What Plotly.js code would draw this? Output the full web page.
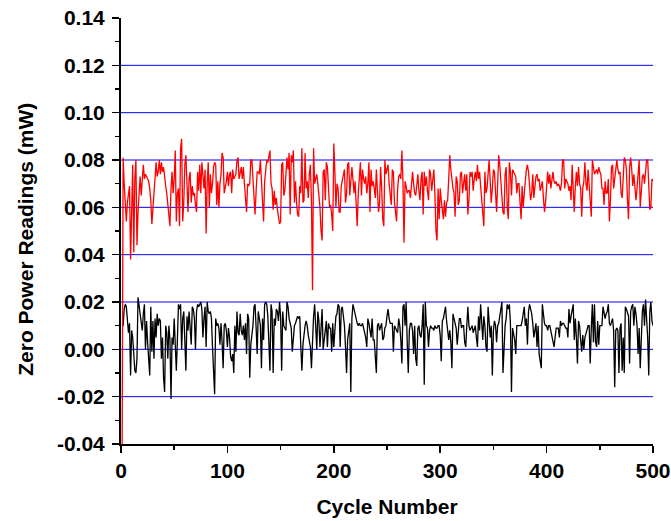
<!DOCTYPE html>
<html>
<head>
<meta charset="utf-8">
<script src="https://cdn.plot.ly/plotly-3.0.1.min.js"></script>
<style>
  html, body { margin: 0; padding: 0; background: #fff; }
  #chart { width: 671px; height: 521px; }
</style>
</head>
<body>
<div id="chart"></div>
<script>
// Zero power readings logged over 500 measurement cycles (mW).
const cycleStart = 1;

// Upper trace (red), cycles 1..500
const redReadings = [
  -0.050,0.081,0.070,0.059,0.054,0.062,0.066,0.069,0.038,0.060,0.078,0.041,0.072,0.080,0.044,0.058,0.067,0.073,0.065,0.071,
  0.078,0.072,0.074,0.073,0.072,0.071,0.068,0.063,0.053,0.060,0.065,0.070,0.079,0.073,0.075,0.080,0.074,0.079,0.075,0.077,
  0.072,0.069,0.066,0.060,0.057,0.052,0.068,0.075,0.066,0.072,0.084,0.054,0.066,0.068,0.052,0.085,0.089,0.054,0.062,0.078,
  0.082,0.066,0.058,0.072,0.075,0.062,0.069,0.065,0.066,0.061,0.058,0.075,0.067,0.078,0.066,0.079,0.072,0.068,0.076,0.049,
  0.070,0.079,0.060,0.074,0.066,0.070,0.077,0.079,0.078,0.061,0.071,0.060,0.070,0.074,0.083,0.081,0.066,0.068,0.071,0.075,
  0.069,0.074,0.075,0.066,0.076,0.072,0.073,0.074,0.080,0.081,0.072,0.074,0.077,0.072,0.077,0.070,0.065,0.058,0.070,0.069,
  0.070,0.080,0.080,0.072,0.063,0.057,0.067,0.075,0.075,0.074,0.080,0.072,0.060,0.054,0.071,0.076,0.080,0.079,0.081,0.084,
  0.070,0.068,0.059,0.067,0.061,0.064,0.059,0.055,0.053,0.054,0.078,0.079,0.065,0.067,0.074,0.081,0.076,0.083,0.057,0.082,
  0.079,0.084,0.062,0.071,0.062,0.057,0.056,0.069,0.066,0.085,0.062,0.063,0.083,0.068,0.071,0.064,0.074,0.078,0.062,0.025,
  0.085,0.070,0.072,0.074,0.070,0.066,0.060,0.050,0.046,0.075,0.076,0.063,0.079,0.077,0.066,0.060,0.061,0.057,0.050,0.087,
  0.075,0.060,0.070,0.068,0.058,0.058,0.069,0.071,0.073,0.076,0.062,0.066,0.078,0.079,0.065,0.070,0.077,0.072,0.066,0.071,
  0.064,0.052,0.066,0.074,0.079,0.065,0.076,0.072,0.070,0.073,0.066,0.070,0.079,0.058,0.076,0.069,0.071,0.068,0.064,0.076,
  0.066,0.058,0.062,0.077,0.068,0.055,0.052,0.080,0.074,0.077,0.078,0.070,0.064,0.061,0.076,0.075,0.062,0.059,0.054,0.068,
  0.073,0.074,0.072,0.084,0.071,0.045,0.071,0.069,0.066,0.067,0.067,0.064,0.070,0.075,0.070,0.066,0.065,0.071,0.074,0.067,
  0.063,0.072,0.075,0.057,0.075,0.069,0.073,0.067,0.063,0.076,0.074,0.067,0.071,0.076,0.066,0.050,0.046,0.068,0.055,0.068,
  0.063,0.060,0.055,0.063,0.056,0.062,0.063,0.072,0.082,0.076,0.071,0.068,0.066,0.056,0.073,0.071,0.061,0.063,0.074,0.075,
  0.066,0.071,0.074,0.067,0.074,0.057,0.063,0.075,0.073,0.075,0.067,0.072,0.075,0.071,0.078,0.072,0.075,0.069,0.063,0.057,
  0.052,0.075,0.066,0.068,0.075,0.080,0.071,0.062,0.068,0.076,0.075,0.068,0.058,0.070,0.082,0.078,0.071,0.065,0.058,0.057,
  0.074,0.077,0.060,0.055,0.079,0.075,0.065,0.076,0.075,0.074,0.073,0.066,0.070,0.070,0.062,0.055,0.069,0.060,0.066,0.073,
  0.076,0.078,0.075,0.069,0.063,0.066,0.074,0.064,0.069,0.073,0.074,0.071,0.072,0.067,0.069,0.071,0.064,0.058,0.062,0.072,
  0.075,0.070,0.074,0.068,0.073,0.075,0.071,0.070,0.071,0.069,0.070,0.069,0.067,0.070,0.080,0.080,0.068,0.072,0.071,0.070,
  0.067,0.069,0.063,0.078,0.068,0.058,0.069,0.075,0.069,0.077,0.070,0.068,0.056,0.068,0.071,0.079,0.070,0.067,0.076,0.069,
  0.063,0.056,0.080,0.076,0.074,0.075,0.076,0.074,0.077,0.075,0.074,0.068,0.068,0.061,0.071,0.066,0.066,0.072,0.054,0.063,
  0.077,0.078,0.068,0.072,0.076,0.080,0.076,0.074,0.075,0.066,0.064,0.071,0.081,0.080,0.076,0.063,0.055,0.077,0.081,0.076,
  0.069,0.074,0.069,0.063,0.068,0.077,0.080,0.060,0.067,0.073,0.074,0.070,0.075,0.080,0.080,0.069,0.059,0.060,0.072,0.071
];

// Lower trace (black), cycles 1..500
const blackReadings = [
  0.010,0.010,0.017,0.019,0.018,0.012,0.007,0.011,-0.011,0.008,0.005,-0.002,-0.009,-0.010,-0.004,0.022,0.018,0.016,0.011,0.008,
  0.015,0.019,0.000,0.012,0.003,-0.004,-0.011,0.018,-0.001,0.012,-0.004,0.013,0.005,0.015,0.010,0.013,0.012,-0.004,0.005,-0.012,
  -0.018,0.010,0.007,-0.004,0.010,0.004,-0.021,0.005,0.002,0.013,-0.002,-0.009,0.004,0.019,0.017,0.019,0.000,0.013,0.016,0.003,
  -0.009,0.014,0.008,0.016,0.010,0.002,0.018,0.017,0.013,0.000,0.016,0.019,0.018,0.019,0.020,0.017,0.005,0.013,0.018,0.001,
  0.020,0.016,0.015,0.016,0.013,0.001,-0.009,-0.019,0.013,0.010,0.011,0.009,0.002,0.011,0.003,-0.008,0.010,0.011,0.008,0.001,
  0.009,0.005,-0.003,-0.005,-0.002,-0.010,0.010,-0.001,0.016,0.007,0.006,0.015,0.008,0.006,0.010,0.004,0.011,-0.002,0.015,0.013,
  -0.012,0.002,0.006,0.010,0.018,0.019,0.009,-0.002,0.016,0.012,0.010,-0.008,0.013,0.004,0.019,0.020,0.019,0.014,0.003,-0.009,
  0.019,0.016,-0.010,0.013,0.010,0.017,0.016,0.012,0.020,0.014,-0.009,0.016,0.010,0.009,0.008,0.020,0.018,0.013,0.010,0.009,
  -0.001,0.004,0.010,0.011,0.013,0.014,0.013,0.014,0.001,-0.009,0.002,0.008,0.010,0.012,0.010,0.006,0.004,0.001,-0.008,0.006,
  0.014,0.019,0.010,0.000,0.016,0.012,0.001,0.010,0.017,0.000,0.006,0.008,0.012,0.001,0.011,0.009,0.009,-0.001,0.011,0.001,
  0.008,0.014,0.015,0.019,0.018,0.001,0.017,0.018,0.014,0.010,0.001,-0.010,0.004,0.007,0.011,-0.018,0.013,0.019,0.017,0.015,
  0.012,0.011,0.010,0.011,0.010,0.010,0.011,0.009,0.008,0.005,0.001,0.013,0.011,0.008,0.005,0.013,0.004,0.004,-0.003,-0.010,
  0.010,0.011,0.008,0.010,0.011,0.004,0.005,0.009,0.010,0.014,0.017,0.013,0.011,0.011,0.011,-0.001,0.010,0.009,0.008,0.007,
  0.013,0.010,0.004,-0.006,0.018,0.019,0.010,0.020,0.003,-0.010,0.008,0.011,0.011,0.008,-0.002,0.010,-0.004,-0.007,0.009,0.010,
  0.006,0.005,0.010,0.019,-0.015,0.020,0.010,0.009,0.001,0.008,0.010,0.009,0.009,0.008,0.010,0.009,0.009,0.010,0.010,0.006,
  -0.005,0.012,0.013,0.015,0.018,0.012,0.009,0.004,0.008,0.003,-0.008,0.015,0.013,0.011,0.009,0.002,0.010,0.013,0.013,0.009,
  0.010,0.010,0.003,0.001,0.010,0.018,0.010,0.008,0.009,0.010,0.007,0.009,0.010,0.005,0.001,0.014,0.008,0.019,0.008,0.004,
  0.014,0.010,0.001,-0.001,0.018,0.011,0.005,0.010,-0.011,0.008,0.012,0.010,0.003,0.010,0.011,0.014,0.017,0.020,-0.010,0.004,
  0.010,0.013,0.019,0.017,0.019,0.011,-0.018,0.009,0.007,0.004,-0.002,0.010,0.010,0.010,0.010,0.010,0.012,0.015,0.018,0.010,
  0.013,0.002,0.016,0.019,0.017,0.015,0.011,0.005,0.008,0.011,0.001,0.010,-0.002,-0.006,-0.008,0.019,0.014,0.011,0.010,0.010,
  0.008,0.010,0.010,0.008,0.006,0.003,0.001,0.005,0.009,0.009,0.009,0.005,0.012,0.010,0.011,0.011,0.010,0.009,0.009,0.005,
  0.017,0.011,0.014,0.016,0.019,0.004,0.013,0.005,-0.006,0.012,0.010,0.004,-0.001,0.006,0.000,0.005,0.007,0.008,0.010,0.010,
  -0.006,0.009,0.019,0.003,0.019,0.003,0.001,0.012,0.002,0.010,0.010,0.010,0.018,0.016,0.013,0.015,0.016,0.019,0.011,0.010,
  0.012,0.013,0.008,-0.016,0.008,0.009,0.008,-0.010,0.009,0.011,-0.009,0.005,-0.010,0.018,0.017,0.015,0.014,-0.006,0.016,0.018,
  0.019,0.010,0.018,0.015,0.010,-0.002,0.009,-0.008,0.010,0.016,0.019,0.010,0.021,0.012,0.005,-0.011,0.016,0.020,0.012,0.010
];

// Axis ticks and horizontal reference lines
const yTickVals = [-0.04, -0.02, 0.00, 0.02, 0.04, 0.06, 0.08, 0.10, 0.12, 0.14];
const yTickText = ['-0.04', '-0.02', '0.00', '0.02', '0.04', '0.06', '0.08', '0.10', '0.12', '0.14'];
const xTickVals = [0, 100, 200, 300, 400, 500];
const gridLevels = [-0.02, 0.00, 0.02, 0.04, 0.06, 0.08, 0.10, 0.12];

const cycles = redReadings.map((_, i) => cycleStart + i);

const fontFamily = 'Arial, "Liberation Sans", Helvetica, sans-serif';

const traces = [
  {
    x: cycles, y: blackReadings, type: 'scatter', mode: 'lines',
    line: { color: '#000000', width: 1.3 }, hoverinfo: 'skip'
  },
  {
    x: cycles, y: redReadings, type: 'scatter', mode: 'lines',
    line: { color: '#ff0000', width: 1.3 }, hoverinfo: 'skip'
  }
];

const shapes = gridLevels.map(v => ({
  type: 'line', xref: 'paper', yref: 'y', x0: 0, x1: 1, y0: v, y1: v,
  line: { color: '#0000ff', width: 1 }, layer: 'below'
}));

const layout = {
  width: 671, height: 521,
  margin: { l: 121, r: 18, t: 18, b: 77 },
  paper_bgcolor: '#ffffff', plot_bgcolor: '#ffffff',
  showlegend: false,
  font: { family: fontFamily, color: '#000000', size: 21, weight: 'bold' },
  shapes: shapes,
  annotations: [{
    text: 'Zero Power Readings (mW)', textangle: -90,
    xref: 'paper', yref: 'paper', x: -0.181, y: 0.481,
    xanchor: 'center', yanchor: 'middle', showarrow: false,
    font: { family: fontFamily, size: 21, weight: 'bold', color: '#000' }
  }],
  xaxis: {
    range: [0, 500],
    tickmode: 'array', tickvals: xTickVals,
    ticks: 'outside', ticklen: 7, tickwidth: 1.5, tickcolor: '#000',
    minor: { dtick: 50, tick0: 0, ticks: 'outside', ticklen: 4, tickwidth: 1.5, tickcolor: '#000', showgrid: false },
    showline: true, linecolor: '#000', linewidth: 2,
    showgrid: false, zeroline: false,
    tickfont: { family: fontFamily, size: 21, weight: 'bold' },
    title: { text: 'Cycle Number', font: { family: fontFamily, size: 21, weight: 'bold' }, standoff: 18 }
  },
  yaxis: {
    range: [-0.04, 0.14],
    tickmode: 'array', tickvals: yTickVals, ticktext: yTickText,
    ticks: 'outside', ticklen: 7, tickwidth: 1.5, tickcolor: '#000',
    ticklabelstandoff: 3,
    minor: { dtick: 0.01, tick0: -0.04, ticks: 'outside', ticklen: 4, tickwidth: 1.5, tickcolor: '#000', showgrid: false },
    showline: true, linecolor: '#000', linewidth: 2,
    showgrid: false, zeroline: false,
    tickfont: { family: fontFamily, size: 21, weight: 'bold' }
  }
};

Plotly.newPlot('chart', traces, layout, { staticPlot: true, displayModeBar: false });
</script>
</body>
</html>
